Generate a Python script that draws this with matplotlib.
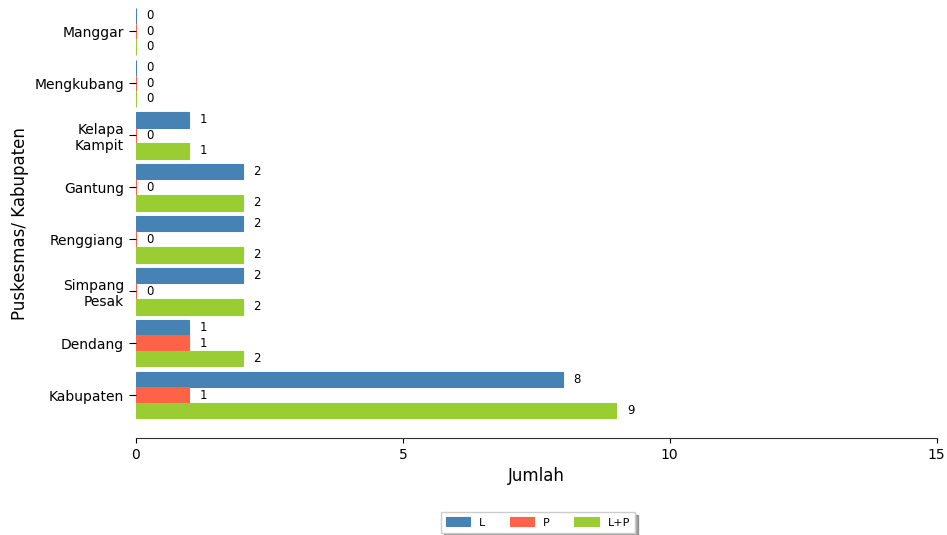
import numpy as np
import matplotlib
matplotlib.use('Agg')
import matplotlib.pyplot as plt

# data (bottom to top)
puskesmas = ['Kabupaten', 'Dendang', 'Simpang\nPesak', 'Renggiang', 'Gantung',
             'Kelapa\nKampit', 'Mengkubang', 'Manggar']
nilai_l = [8, 1, 2, 2, 2, 1, 0, 0]
nilai_p = [1, 1, 0, 0, 0, 0, 0, 0]
nilai_lp = [9, 2, 2, 2, 2, 1, 0, 0]
seri = ['L', 'P', 'L+P']
warna = ['#4682B4', '#FF6347', '#9ACD32']


def draw_chart():
    """ grouped horizontal bars """
    fig = plt.figure(figsize=(9.47, 5.35), dpi=100)
    ax = fig.add_axes([0.1436, 0.181, 0.8454, 0.804])

    y = np.arange(len(puskesmas))
    h = 0.3
    offsets = [h, 0, -h]
    for vals, name, col, off in zip([nilai_l, nilai_p, nilai_lp], seri, warna, offsets):
        ax.barh(y + off, vals, height=h, color=col, edgecolor=col, linewidth=0.8, label=name)
        for yi, v in zip(y, vals):
            ax.text(v + 0.2, yi + off, '{}'.format(v), va='center', ha='left', fontsize=8.5)

    ax.set_yticks(y)
    ax.set_yticklabels(puskesmas, fontsize=10)
    ax.set_xlim(0, 15)
    ax.set_xticks([0, 5, 10, 15])
    ax.tick_params(axis='x', labelsize=10)
    ax.tick_params(axis='y', length=5)
    ax.set_ylim(-0.83, 7.45)

    for s in ['top', 'right', 'left']:
        ax.spines[s].set_visible(False)
    ax.spines['bottom'].set_color('#333333')

    ax.set_xlabel('Jumlah', fontsize=12)
    ax.set_ylabel('Puskesmas/ Kabupaten', fontsize=12)

    ax.legend(loc='center', bbox_to_anchor=(0.502, -0.196), ncol=3, fontsize=8,
              shadow=True, fancybox=False, handlelength=2.2, handleheight=0.8,
              columnspacing=2.2, borderpad=0.45, handletextpad=0.8)

    fig.savefig('out.png', dpi=100)


if __name__ == '__main__':
    draw_chart()
